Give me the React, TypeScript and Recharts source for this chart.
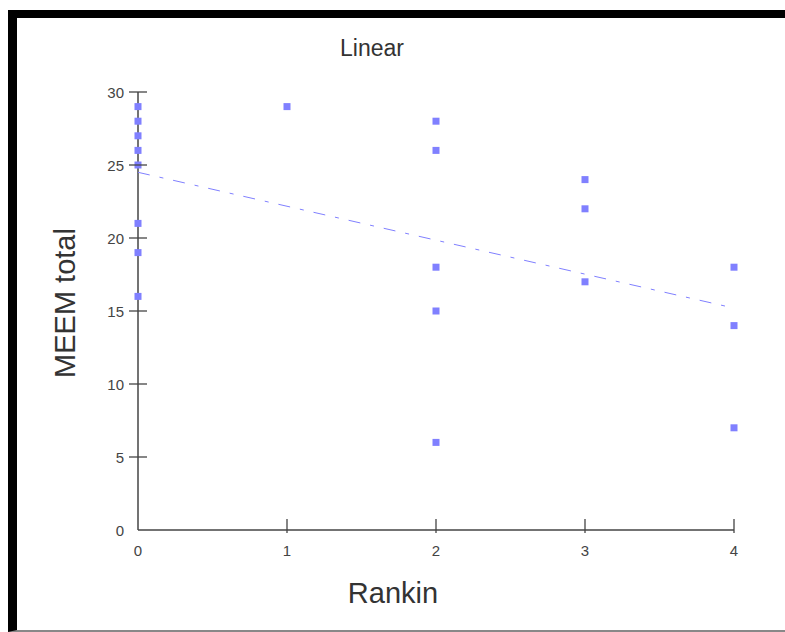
import { ScatterChart, Scatter, XAxis, YAxis } from "recharts"

// Rankin score (x) and MEEM total (y), one entry per patient
const rankin = [0, 0, 0, 0, 0, 0, 0, 0, 1, 2, 2, 2, 2, 2, 3, 3, 3, 4, 4, 4]
const meem = [29, 28, 27, 26, 25, 21, 19, 16, 29, 28, 26, 18, 15, 6, 24, 22, 17, 18, 14, 7]

// linear fit end points
const fitX = [0, 4]
const fitY = [24.5, 15.2]

const xTicks = [0, 1, 2, 3, 4]
const yTicks = [0, 5, 10, 15, 20, 25, 30]

const points = rankin.map((r, i) => ({ x: r, y: meem[i] }))
const fitLine = fitX.map((x, i) => ({ x, y: fitY[i] }))

const FONT = "'Liberation Sans', Arial, sans-serif"
const AXIS = "#444"
const MARK = "#8080ff"

function YTick(props: any) {
  const { x, y, payload } = props
  return (
    <g>
      {payload.value !== 0 && <line x1={x + 5} x2={x + 23} y1={y} y2={y} stroke={AXIS} strokeWidth={1.3} />}
      <text x={x} y={y} textAnchor="end" dominantBaseline="central" fontSize={15} fill={AXIS} fontFamily={FONT}>
        {payload.value}
      </text>
    </g>
  )
}

function XTick(props: any) {
  const { x, y, payload } = props
  return (
    <g>
      {payload.value !== 0 && <line x1={x} x2={x} y1={y - 31} y2={y - 17} stroke={AXIS} strokeWidth={1.3} />}
      <text x={x} y={y} textAnchor="middle" dominantBaseline="central" fontSize={15} fill={AXIS} fontFamily={FONT}>
        {payload.value}
      </text>
    </g>
  )
}

const Square = (props: any) => <rect x={props.cx - 3.5} y={props.cy - 3.5} width={7} height={7} fill={MARK} />
const NoDot = () => <g />

export default function App() {
  return (
    <div style={{ position: "absolute", left: 0, top: 0, width: 785, height: 632, background: "#fff", overflow: "hidden", fontFamily: FONT }}>
      <div
        style={{
          position: "absolute",
          left: 8,
          top: 10,
          width: 777,
          height: 622,
          boxSizing: "border-box",
          borderLeft: "9px solid #000",
          borderTop: "8px solid #000",
          borderBottom: "2px solid #888",
        }}
      />
      <div style={{ position: "absolute", left: 0, width: 744, top: 35, textAlign: "center", fontSize: 23, color: "#333" }}>Linear</div>
      <div style={{ position: "absolute", left: 0, width: 786, top: 577, textAlign: "center", fontSize: 29, color: "#333" }}>Rankin</div>
      <div
        style={{
          position: "absolute",
          left: 65,
          top: 303,
          fontSize: 29,
          color: "#333",
          whiteSpace: "nowrap",
          transform: "translate(-50%, -50%) rotate(-90deg)",
        }}
      >
        MEEM total
      </div>
      <div style={{ position: "absolute", left: 0, top: 0 }}>
        <ScatterChart width={785} height={632} margin={{ top: 92, right: 51, bottom: 72, left: 78 }}>
          <XAxis
            type="number"
            dataKey="x"
            domain={[0, 4]}
            ticks={xTicks}
            height={30}
            tickSize={0}
            tickMargin={20}
            tickLine={false}
            axisLine={{ stroke: AXIS, strokeWidth: 1.5 }}
            tick={<XTick />}
          />
          <YAxis
            type="number"
            dataKey="y"
            domain={[0, 30]}
            ticks={yTicks}
            width={60}
            tickSize={0}
            tickMargin={14}
            tickLine={false}
            axisLine={{ stroke: AXIS, strokeWidth: 1.5 }}
            tick={<YTick />}
          />
          <Scatter
            data={fitLine}
            line={{ stroke: MARK, strokeWidth: 1, strokeDasharray: "12 10 4 10" }}
            shape={<NoDot />}
            isAnimationActive={false}
          />
          <Scatter data={points} shape={<Square />} isAnimationActive={false} />
        </ScatterChart>
      </div>
    </div>
  )
}
